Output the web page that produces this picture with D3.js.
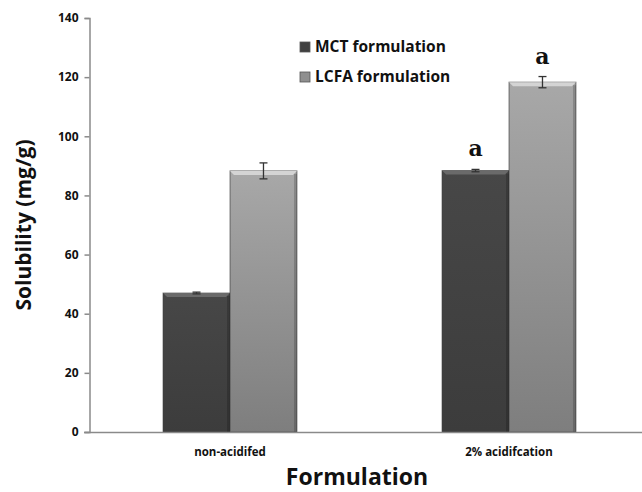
<!DOCTYPE html>
<html>
<head>
<meta charset="utf-8">
<script src="https://cdn.jsdelivr.net/npm/d3@7"></script>
<style>
  body { margin: 0; background: #fff; }
  text { font-family: "Open Sans", "Liberation Sans", sans-serif; }
</style>
</head>
<body>
<script>
  // chart data
  let categories = ["non-acidifed", "2% acidifcation"];
  let seriesNames = ["MCT formulation", "LCFA formulation"];
  let mctValues = [47.0, 88.4];
  let mctErrors = [0.3, 0.4];
  let lcfaValues = [88.3, 118.3];
  let lcfaErrors = [2.7, 1.9];
  let letters = [["", ""], ["a", "a"]];
  let yTicks = [0, 20, 40, 60, 80, 100, 120, 140];

  let width = 642, height = 492;
  let svg = d3.select("body").append("svg")
    .attr("width", width)
    .attr("height", height);

  // gradients for bars
  let defs = svg.append("defs");
  let fills = [["mctGrad", "#474747", "#3c3c3c"], ["lcfaGrad", "#a8a8a8", "#7e7e7e"]];
  fills.forEach((f) => {
    let g = defs.append("linearGradient").attr("id", f[0])
      .attr("x1", 0).attr("y1", 0).attr("x2", 0).attr("y2", 1);
    g.append("stop").attr("offset", "0%").attr("stop-color", f[1]);
    g.append("stop").attr("offset", "100%").attr("stop-color", f[2]);
  });
  let baseColors = ["#404040", "#8f8f8f"];

  let x0 = d3.scaleBand()
    .domain(categories)
    .range([90.5, 648.5])
    .paddingInner(0.52)
    .paddingOuter(0.26);
  let x1 = d3.scaleBand()
    .domain(seriesNames)
    .range([0, x0.bandwidth()]);
  let y = d3.scaleLinear().domain([0, 140]).range([432, 18]);

  // y axis
  let yAxis = d3.axisLeft(y).tickValues(yTicks).tickSize(5).tickPadding(6);
  let gy = svg.append("g")
    .attr("transform", "translate(89.5,0)")
    .call(yAxis);
  gy.select(".domain").attr("stroke", "#8a8a8a").attr("stroke-width", 1.5);
  gy.selectAll(".tick line").attr("stroke", "#8a8a8a").attr("stroke-width", 1.5);
  gy.selectAll(".tick text")
    .attr("fill", "#111")
    .style("font-size", "12px")
    .style("font-weight", "bold");

  // bars
  let rows = [];
  categories.forEach((c, i) => {
    rows.push({ cat: c, s: 0, v: mctValues[i], e: mctErrors[i], l: letters[i][0] });
    rows.push({ cat: c, s: 1, v: lcfaValues[i], e: lcfaErrors[i], l: letters[i][1] });
  });

  let bars = svg.append("g").selectAll("g.bar")
    .data(rows)
    .enter()
    .append("g")
    .attr("class", "bar");

  bars.append("rect")
    .attr("x", (d) => x0(d.cat) + x1(seriesNames[d.s]))
    .attr("y", (d) => y(d.v))
    .attr("width", x1.bandwidth())
    .attr("height", (d) => y(0) - y(d.v))
    .attr("fill", (d) => "url(#" + fills[d.s][0] + ")")
    .attr("stroke", "#333")
    .attr("stroke-opacity", 0.6)
    .attr("stroke-width", 1);

  // bevel on top edge
  bars.append("path")
    .attr("d", (d) => {
      let bx = x0(d.cat) + x1(seriesNames[d.s]);
      let by = y(d.v);
      let bw = x1.bandwidth();
      return "M" + bx + "," + by + "L" + (bx + bw) + "," + by +
        "L" + (bx + bw - 4) + "," + (by + 4) + "L" + (bx + 4) + "," + (by + 4) + "Z";
    })
    .attr("fill", (d) => d.s == 0 ? "#6a6a6a" : "#d4d4d4");
  // dark sides
  bars.append("rect")
    .attr("x", (d) => x0(d.cat) + x1(seriesNames[d.s]) + x1.bandwidth() - 3)
    .attr("y", (d) => y(d.v) + 3)
    .attr("width", 3)
    .attr("height", (d) => y(0) - y(d.v) - 3)
    .attr("fill", "#000")
    .attr("opacity", 0.18);

  // error bars
  let errs = bars.append("g")
    .attr("stroke", "#333")
    .attr("stroke-width", 1.3);
  errs.append("line")
    .attr("x1", (d) => x0(d.cat) + x1(seriesNames[d.s]) + x1.bandwidth() / 2)
    .attr("x2", (d) => x0(d.cat) + x1(seriesNames[d.s]) + x1.bandwidth() / 2)
    .attr("y1", (d) => y(d.v + d.e))
    .attr("y2", (d) => y(d.v - d.e));
  [1, -1].forEach((sign) => {
    errs.append("line")
      .attr("x1", (d) => x0(d.cat) + x1(seriesNames[d.s]) + x1.bandwidth() / 2 - 4)
      .attr("x2", (d) => x0(d.cat) + x1(seriesNames[d.s]) + x1.bandwidth() / 2 + 4)
      .attr("y1", (d) => y(d.v + sign * d.e))
      .attr("y2", (d) => y(d.v + sign * d.e));
  });

  // significance letters
  bars.append("text")
    .attr("x", (d) => x0(d.cat) + x1(seriesNames[d.s]) + x1.bandwidth() / 2)
    .attr("y", (d) => y(d.v + d.e) - 13)
    .attr("text-anchor", "middle")
    .style("font-family", "'DejaVu Serif', serif")
    .style("font-size", "22px")
    .style("font-weight", "bold")
    .attr("fill", "#111")
    .text((d) => d.l);

  // x axis line
  svg.append("line")
    .attr("x1", 84).attr("x2", width)
    .attr("y1", y(0) + 0.5).attr("y2", y(0) + 0.5)
    .attr("stroke", "#8a8a8a")
    .attr("stroke-width", 1.5);

  // category labels
  svg.append("g").selectAll("text")
    .data(categories)
    .enter()
    .append("text")
    .attr("x", (d) => x0(d) + x0.bandwidth() / 2)
    .attr("y", 456)
    .attr("text-anchor", "middle")
    .style("font-size", "11.5px")
    .style("font-weight", "bold")
    .attr("fill", "#111")
    .text((d) => d);

  // axis titles
  svg.append("text")
    .attr("x", 357)
    .attr("y", 485)
    .attr("text-anchor", "middle")
    .style("font-size", "23px")
    .style("font-weight", "bold")
    .attr("fill", "#111")
    .text("Formulation");
  svg.append("text")
    .attr("transform", "translate(31,225)rotate(-90)")
    .attr("text-anchor", "middle")
    .style("font-size", "21px")
    .style("font-weight", "bold")
    .attr("fill", "#111")
    .text("Solubility (mg/g)");

  // legend
  let legend = svg.append("g").selectAll("g")
    .data(seriesNames)
    .enter()
    .append("g")
    .attr("transform", (d, i) => "translate(300," + (42 + i * 30) + ")");
  legend.append("rect")
    .attr("width", 10).attr("height", 10)
    .attr("fill", (d, i) => baseColors[i])
    .attr("stroke", "#555")
    .attr("stroke-width", 0.8);
  legend.append("text")
    .attr("x", 15)
    .attr("y", 10)
    .style("font-size", "15.5px")
    .style("font-weight", "bold")
    .attr("fill", "#111")
    .text((d) => d);
</script>
</body>
</html>
